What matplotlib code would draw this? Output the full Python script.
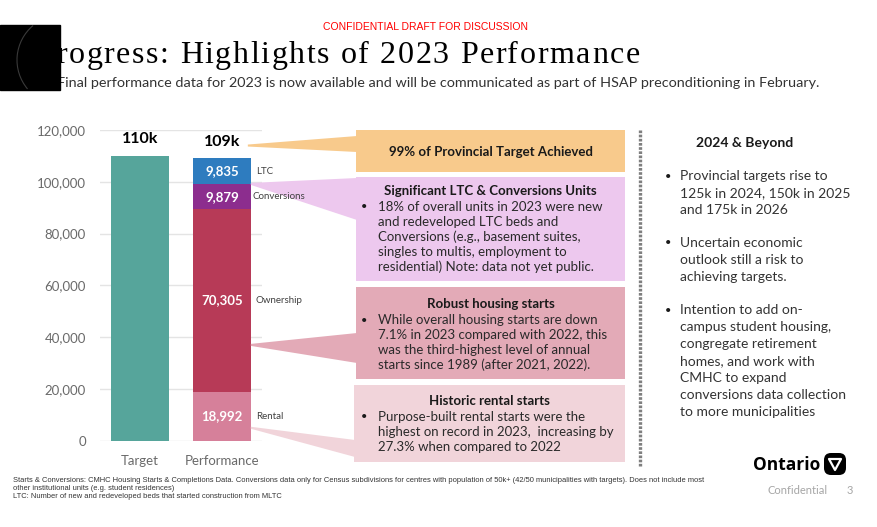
import matplotlib.pyplot as plt
from matplotlib.patches import Rectangle, Polygon, FancyBboxPatch, Arc

plt.rcParams['font.family'] = ['Lato', 'DejaVu Sans']

# chart data
categories = ["Target", "Performance"]
target_value = 110000
segment_names = ["Rental", "Ownership", "Conversions", "LTC"]
segment_values = [18992, 70305, 9879, 9835]
segment_colors = ["#D6809A", "#B73A57", "#8C2D8E", "#2E7CBF"]
total_labels = ["110k", "109k"]
y_ticks = [0, 20000, 40000, 60000, 80000, 100000, 120000]

# callout boxes: title, bullet lines, colour
box_titles = ["99% of Provincial Target Achieved",
              "Significant LTC & Conversions Units",
              "Robust housing starts",
              "Historic rental starts"]
box_lines = [
    [],
    ["18% of overall units in 2023 were new",
     "and redeveloped LTC beds and",
     "Conversions (e.g., basement suites,",
     "singles to multis, employment to",
     "residential) Note: data not yet public."],
    ["While overall housing starts are down",
     "7.1% in 2023 compared with 2022, this",
     "was the third-highest level of annual",
     "starts since 1989 (after 2021, 2022)."],
    ["Purpose-built rental starts were the",
     "highest on record in 2023,  increasing by",
     "27.3% when compared to 2022"],
]
box_colors = ["#F8CA8C", "#EDC8EE", "#E3AAB7", "#F1D4DA"]
# where each callout points on the Performance bar (data units)
pointer_values = [114000, 99176, 37000, 5000]

right_title = "2024 & Beyond"
right_bullets = [
    ["Provincial targets rise to", "125k in 2024, 150k in 2025", "and 175k in 2026"],
    ["Uncertain economic", "outlook still a risk to", "achieving targets."],
    ["Intention to add on-", "campus student housing,", "congregate retirement",
     "homes, and work with", "CMHC to expand", "conversions data collection",
     "to more municipalities"],
]

footer_lines = [
    "Starts & Conversions: CMHC Housing Starts & Completions Data. Conversions data only for Census subdivisions for centres with population of 50k+ (42/50 municipalities with targets). Does not include most",
    "other institutional units (e.g. student residences)",
    "LTC: Number of new and redeveloped beds that started construction from MLTC",
]

title = "Progress: Highlights of 2023 Performance"
subtitle = "Final performance data for 2023 is now available and will be communicated as part of HSAP preconditioning in February."

W, H = 878, 527
fig = plt.figure(figsize=(W / 100, H / 100), dpi=100)

# ---- bar chart ----
ax = fig.add_axes([100 / W, 1 - 440.7 / H, 162 / W, 310.7 / H])
bw = 0.707
ax.bar(0, target_value, width=bw, color="#56A59B", zorder=2)
bottom = 0
mids = []
for name, val, col in zip(segment_names, segment_values, segment_colors):
    ax.bar(1, val, width=bw, bottom=bottom, color=col, zorder=2)
    mid = bottom + val / 2
    mids.append(mid)
    ax.text(1, mid, f"{val:,}", color="white", fontsize=9.5, fontweight="bold",
            ha="center", va="center", zorder=3)
    bottom += val

for i, (lab, top) in enumerate(zip(total_labels, [target_value, bottom])):
    ax.annotate(lab, xy=(i, top), xytext=(0, 7), textcoords="offset points",
                ha="center", va="bottom", fontsize=11.5, fontweight="bold", color="black")

ax.set_xlim(-0.49, 1.49)
ax.set_ylim(0, 120000)
ax.set_yticks(y_ticks)
ax.set_yticklabels([f"{v:,}" for v in y_ticks])
ax.set_xticks([0, 1])
ax.set_xticklabels(categories)
ax.tick_params(axis="y", length=0, pad=10, labelsize=9.5, labelcolor="#6A6A6A")
ax.tick_params(axis="x", length=0, pad=10, labelsize=9.5, labelcolor="#6A6A6A")
ax.grid(axis="y", color="#E4E4E4", linewidth=1, zorder=0)
for s in ax.spines.values():
    s.set_visible(False)

# ---- overlay in pixel coordinates ----
ov = fig.add_axes([0, 0, 1, 1])
ov.set_xlim(0, W)
ov.set_ylim(H, 0)
ov.axis("off")


def data_px(x, y):
    return ov.transData.inverted().transform(ax.transData.transform((x, y)))


box_rects = [(356, 130, 625, 172), (356, 177, 625, 281), (356, 287, 625, 379), (354, 385, 625, 462)]
wedge_bases = [(136, 152), (178, 220), (333, 363), (440, 457)]
title_y = [152, 191, 304, 401]
for k in range(4):
    x0, y0, x1, y1 = box_rects[k]
    ov.add_patch(Rectangle((x0, y0), x1 - x0, y1 - y0, color=box_colors[k], lw=0))
    ax_px = data_px(1 + bw / 2, pointer_values[k])
    apx = ax_px[0] - (3 if k == 0 else 0)
    b0, b1 = wedge_bases[k]
    ov.add_patch(Polygon([(apx, ax_px[1] - 1), (x0 + 1, b0), (x0 + 1, b1), (apx, ax_px[1] + 1)],
                         closed=True, color=box_colors[k], lw=0))
    ov.text((x0 + x1) / 2, title_y[k], box_titles[k], fontsize=9.5, fontweight="bold",
            ha="center", va="center", color="#1A1A1A")
    for j, line in enumerate(box_lines[k]):
        yy = title_y[k] + 16 + j * 15
        if j == 0:
            ov.text(364, yy, "•", fontsize=8, ha="center", va="center", color="#1A1A1A")
        ov.text(378, yy, line, fontsize=9.5, ha="left", va="center", color="#2A2A2A")

# segment names beside the Performance bar (on top of the pointers)
for name, mid in zip(segment_names, mids):
    px, py = data_px(1 + bw / 2, mid)
    off = 2 if name == "Conversions" else 5
    ov.text(px + off, py, name, fontsize=7, color="#404040", ha="left", va="center", zorder=5)

# dotted separator
ov.plot([640, 640], [130, 466], color="#7F7F7F", lw=2.4, linestyle=(0, (0.8, 0.45)),
        solid_capstyle="butt", dash_capstyle="butt")

# right column
ov.text(745, 143, right_title, fontsize=10, fontweight="bold", ha="center", va="center",
        color="#1A1A1A")
y = 176
for group in right_bullets:
    ov.text(668, y, "•", fontsize=8, ha="center", va="center", color="#1A1A1A")
    for line in group:
        ov.text(680, y, line, fontsize=10, ha="left", va="center", color="#333333")
        y += 17
    y += 16

# header
ov.text(426, 27, "CONFIDENTIAL DRAFT FOR DISCUSSION", fontsize=7.5, color="#FF0000",
        ha="center", va="center", family=["Liberation Sans"])

# title with letter spacing
renderer = fig.canvas.get_renderer()
tx0, track = 37, 1.6
probe = ov.text(0, 0, "", fontsize=23, family=["Liberation Serif"])
for i, ch in enumerate(title):
    probe.set_text(title[:i] + "|")
    w_bar = probe.get_window_extent(renderer).width
    probe.set_text("|")
    w_pipe = probe.get_window_extent(renderer).width
    ov.text(tx0 + (w_bar - w_pipe) + i * track, 63, ch, fontsize=23,
            family=["Liberation Serif"], ha="left", va="baseline", color="black")
probe.remove()

ov.text(57, 83, subtitle, fontsize=10.4, ha="left", va="center", color="#333333")
ov.add_patch(Rectangle((0, 25), 60, 65, color="black", zorder=5))
ov.add_patch(Arc((62, 60), 90, 90, theta1=140, theta2=230, color="#3A3A3A", lw=0.8, zorder=6))

# footer
for j, line in enumerate(footer_lines):
    ov.text(13, 480 + j * 8.5, line, fontsize=5.45, ha="left", va="center", color="#333333",
            family=["Liberation Sans"])

# Ontario logo
ov.text(820, 465, "Ontario", fontsize=12.5, fontweight="bold", ha="right", va="center",
        color="black", family=["Open Sans", "DejaVu Sans"])
ov.add_patch(FancyBboxPatch((824, 453), 22, 22, boxstyle="round,pad=0,rounding_size=7",
                            color="black", lw=0))
ov.add_patch(Polygon([(829, 459), (841, 459), (835, 470)], closed=True, fill=False,
                     edgecolor="white", lw=1.6, joinstyle="round"))
ov.text(768, 491, "Confidential", fontsize=8, color="#A6A6A6", ha="left", va="center")
ov.text(850, 491, "3", fontsize=8, color="#A6A6A6", ha="center", va="center")

fig.savefig("out.png", dpi=100)
